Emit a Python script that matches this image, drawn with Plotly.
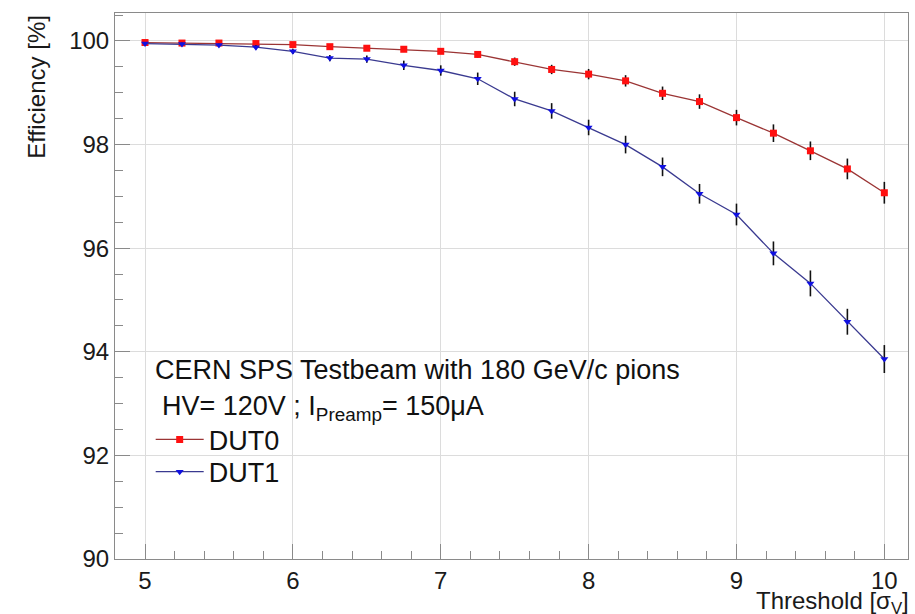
import plotly.graph_objects as go

threshold = [5.0, 5.25, 5.5, 5.75, 6.0, 6.25, 6.5, 6.75, 7.0, 7.25, 7.5,
             7.75, 8.0, 8.25, 8.5, 8.75, 9.0, 9.25, 9.5, 9.75, 10.0]

dut0_eff = [99.97, 99.96, 99.96, 99.95, 99.93, 99.89, 99.86, 99.84, 99.80, 99.74, 99.60,
            99.45, 99.36, 99.23, 98.99, 98.83, 98.52, 98.22, 97.88, 97.53, 97.07]
dut0_err = [0.02, 0.02, 0.02, 0.03, 0.03, 0.04, 0.04, 0.05, 0.05, 0.06, 0.08,
            0.09, 0.10, 0.11, 0.13, 0.14, 0.15, 0.17, 0.18, 0.20, 0.21]

dut1_eff = [99.95, 99.94, 99.92, 99.88, 99.80, 99.67, 99.65, 99.53, 99.43, 99.27, 98.88,
            98.65, 98.33, 98.00, 97.57, 97.05, 96.65, 95.90, 95.32, 94.58, 93.86]
dut1_err = [0.02, 0.03, 0.03, 0.04, 0.05, 0.06, 0.07, 0.09, 0.10, 0.12, 0.14,
            0.15, 0.15, 0.17, 0.18, 0.19, 0.21, 0.23, 0.25, 0.25, 0.27]

FONT = "Liberation Sans, Arial, sans-serif"

fig = go.Figure()
fig.add_trace(go.Scatter(
    x=threshold, y=dut0_eff, name="DUT0", mode="lines+markers", legend="legend",
    line=dict(color="#9b3535", width=1.3),
    marker=dict(symbol="square", size=7, color="#ff1010"),
    error_y=dict(type="data", array=dut0_err, visible=True, color="#111111", thickness=1.6, width=0),
))
fig.add_trace(go.Scatter(
    x=threshold, y=dut1_eff, name="DUT1", mode="lines+markers", legend="legend2",
    line=dict(color="#3a3a90", width=1.3),
    marker=dict(symbol="triangle-down", size=7, color="#1010e0"),
    error_y=dict(type="data", array=dut1_err, visible=True, color="#111111", thickness=1.6, width=0),
))

axis_common = dict(
    showline=True, mirror=True, linecolor="#8a8a8a", linewidth=1,
    showgrid=True, gridcolor="#dcdcdc", gridwidth=1,
    ticks="inside", ticklen=15, tickcolor="#8a8a8a",
    tickfont=dict(family=FONT, size=24, color="#1a1a1a"),
    zeroline=False,
)

fig.update_xaxes(range=[4.797, 10.16], dtick=1, tick0=5,
                 minor=dict(ticks="inside", dtick=0.2, ticklen=8, tickcolor="#8a8a8a", showgrid=False),
                 **axis_common)
fig.update_yaxes(range=[90, 100.54], dtick=2, tick0=90,
                 minor=dict(ticks="inside", dtick=0.5, ticklen=8, tickcolor="#8a8a8a", showgrid=False),
                 **axis_common)

fig.add_annotation(xref="paper", yref="paper", x=1.004, y=-0.079, xanchor="right", yanchor="middle",
                   text="Threshold [σ<sub>V</sub>]", showarrow=False,
                   font=dict(family=FONT, size=24, color="#1a1a1a"))
fig.add_annotation(xref="paper", yref="paper", x=-0.10, y=1.0, xanchor="center", yanchor="top",
                   text="Efficiency [%]", textangle=-90, showarrow=False,
                   font=dict(family=FONT, size=24, color="#1a1a1a"))
fig.add_annotation(xref="paper", yref="paper", x=0.048, y=0.346, xanchor="left", yanchor="middle",
                   text="CERN SPS Testbeam with 180 GeV/c pions", showarrow=False,
                   font=dict(family=FONT, size=27, color="#111111"))
fig.add_annotation(xref="paper", yref="paper", x=0.057, y=0.312, xanchor="left", yanchor="top",
                   text="HV= 120V ; I<sub>Preamp</sub>= 150μA", showarrow=False,
                   font=dict(family=FONT, size=27, color="#111111"))

legend_style = dict(xanchor="left", yanchor="top", bgcolor="rgba(0,0,0,0)",
                    font=dict(family=FONT, size=27, color="#111111"), itemwidth=48)

fig.update_layout(
    width=915, height=614,
    margin=dict(l=115, r=7, t=13, b=55),
    plot_bgcolor="white", paper_bgcolor="white",
    font=dict(family=FONT, size=24, color="#111111"),
    legend=dict(x=0.045, y=0.263, **legend_style),
    legend2=dict(x=0.045, y=0.204, **legend_style),
    showlegend=True,
)

fig.write_html("out.html", config={"displayModeBar": False},
               post_script="document.body.style.margin='0';")
